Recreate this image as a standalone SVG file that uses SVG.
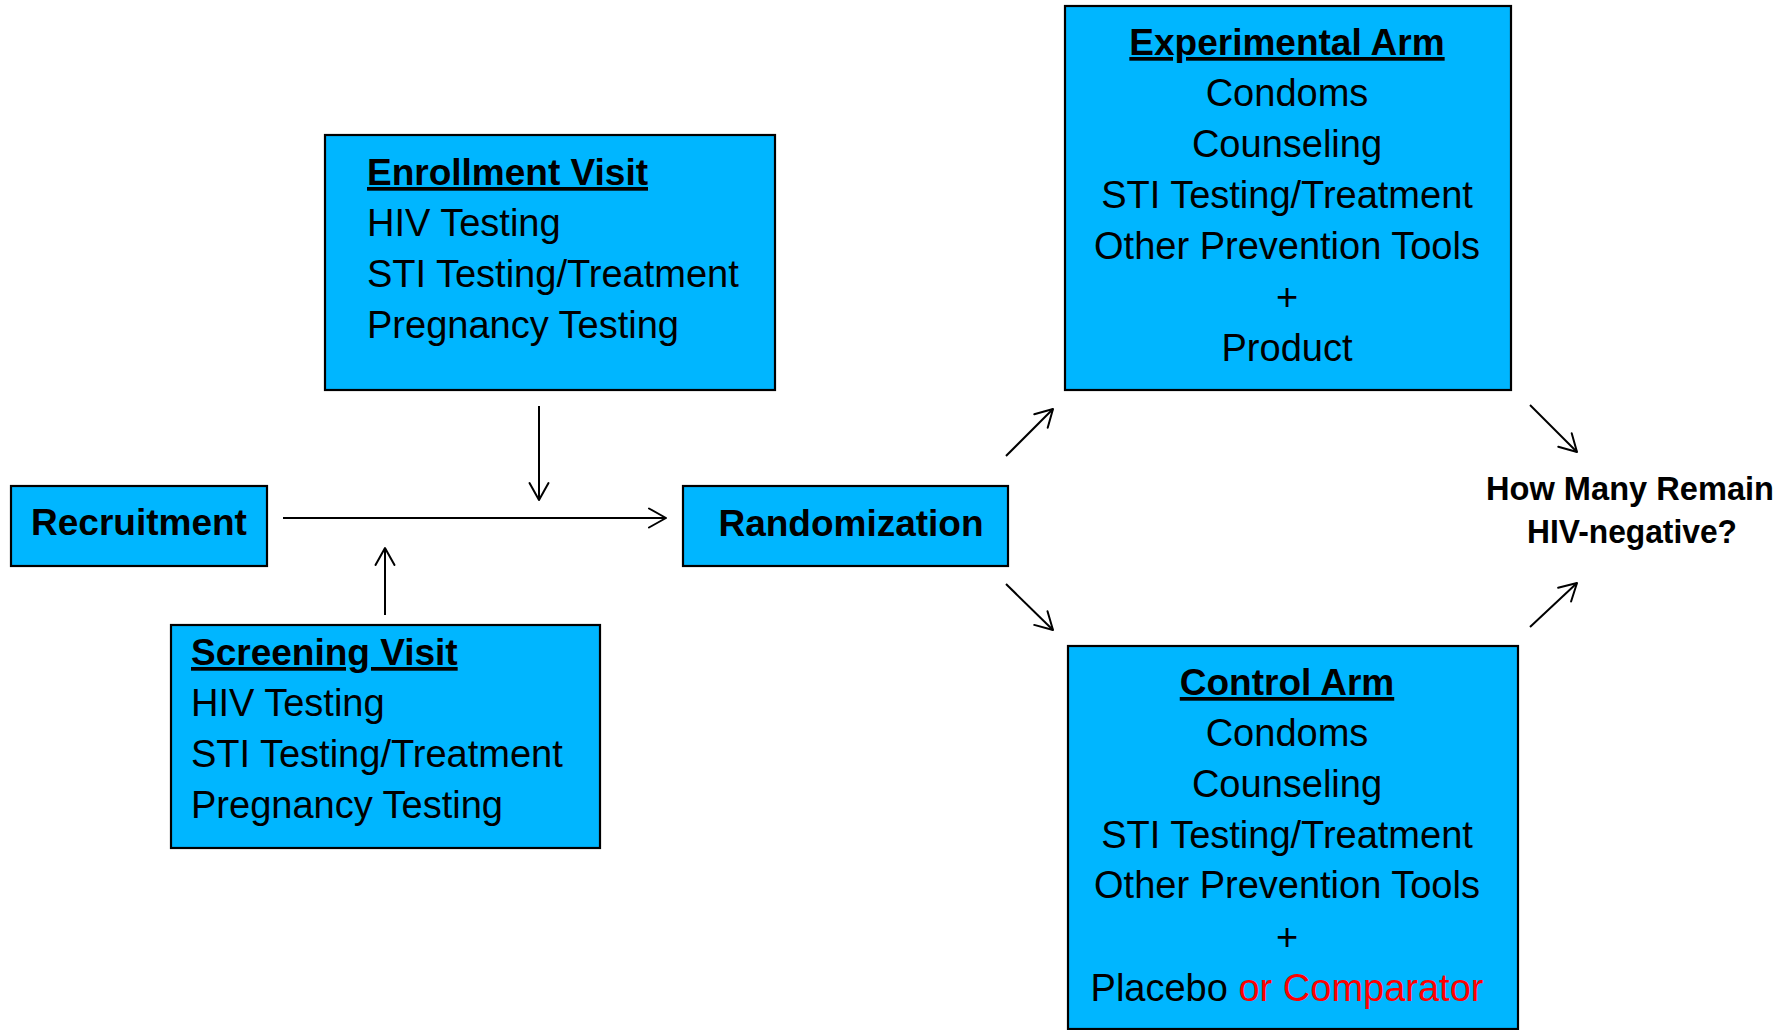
<svg xmlns="http://www.w3.org/2000/svg" width="1787" height="1030" viewBox="0 0 1787 1030">
<style>
.box{fill:#00B6FF;stroke:#000;stroke-width:2.2}
.t{font-family:"Liberation Sans",Arial,sans-serif;font-size:38px;fill:#000}
.h{font-family:"Liberation Sans",Arial,sans-serif;font-size:37px;font-weight:bold;fill:#000}
.u{text-decoration:underline}
.c{text-anchor:middle}
.q{font-family:"Liberation Sans",Arial,sans-serif;font-size:33px;font-weight:bold;fill:#000;text-anchor:middle}
.red{fill:#FF0000}
.conn line{stroke:#000;stroke-width:2;marker-end:url(#arr)}
</style>
<defs>
<marker id="arr" viewBox="-20 -12 22 24" refX="0" refY="0" markerWidth="22" markerHeight="24" markerUnits="userSpaceOnUse" orient="auto">
<path d="M-17,-9.5 L0,0 L-17,9.5" fill="none" stroke="#000" stroke-width="2" stroke-linejoin="round" stroke-linecap="round"/>
</marker>
</defs>
<rect width="1787" height="1030" fill="#fff"/>

<g id="enrollment">
<rect class="box" x="325" y="135" width="450" height="255"/>
<text class="h u" x="367" y="185">Enrollment Visit</text>
<text class="t" x="367" y="236">HIV Testing</text>
<text class="t" x="367" y="287">STI Testing/Treatment</text>
<text class="t" x="367" y="338">Pregnancy Testing</text>
</g>

<g id="recruitment">
<rect class="box" x="11" y="486" width="256" height="80"/>
<text class="h c" x="139" y="535">Recruitment</text>
</g>

<g id="randomization">
<rect class="box" x="683" y="486" width="325" height="80"/>
<text class="h c" x="851" y="536">Randomization</text>
</g>

<g id="screening">
<rect class="box" x="171" y="625" width="429" height="223"/>
<text class="h u" x="191" y="665">Screening Visit</text>
<text class="t" x="191" y="716">HIV Testing</text>
<text class="t" x="191" y="767">STI Testing/Treatment</text>
<text class="t" x="191" y="818">Pregnancy Testing</text>
</g>

<g id="experimental">
<rect class="box" x="1065" y="6" width="446" height="384"/>
<text class="h u c" x="1287" y="55">Experimental Arm</text>
<text class="t c" x="1287" y="106">Condoms</text>
<text class="t c" x="1287" y="157">Counseling</text>
<text class="t c" x="1287" y="208">STI Testing/Treatment</text>
<text class="t c" x="1287" y="259">Other Prevention Tools</text>
<text class="t c" x="1287" y="310">+</text>
<text class="t c" x="1287" y="361">Product</text>
</g>

<g id="control">
<rect class="box" x="1068" y="646" width="450" height="383"/>
<text class="h u c" x="1287" y="695">Control Arm</text>
<text class="t c" x="1287" y="746">Condoms</text>
<text class="t c" x="1287" y="797">Counseling</text>
<text class="t c" x="1287" y="848">STI Testing/Treatment</text>
<text class="t c" x="1287" y="898">Other Prevention Tools</text>
<text class="t c" x="1287" y="950">+</text>
<text class="t c" x="1287" y="1001">Placebo <tspan class="red">or Comparator</tspan></text>
</g>

<g id="outcome">
<text class="q" x="1630" y="500" textLength="288" lengthAdjust="spacingAndGlyphs">How Many Remain</text>
<text class="q" x="1632" y="543" textLength="210" lengthAdjust="spacingAndGlyphs">HIV-negative?</text>
</g>

<g id="connectors" class="conn">
<line x1="283" y1="518" x2="666" y2="518"/>
<line x1="539" y1="406" x2="539" y2="500"/>
<line x1="385" y1="615" x2="385" y2="548"/>
<line x1="1006" y1="456" x2="1053" y2="409"/>
<line x1="1006" y1="584" x2="1053" y2="630"/>
<line x1="1530" y1="405" x2="1577" y2="452"/>
<line x1="1530" y1="627" x2="1577" y2="583"/>
</g>
</svg>
